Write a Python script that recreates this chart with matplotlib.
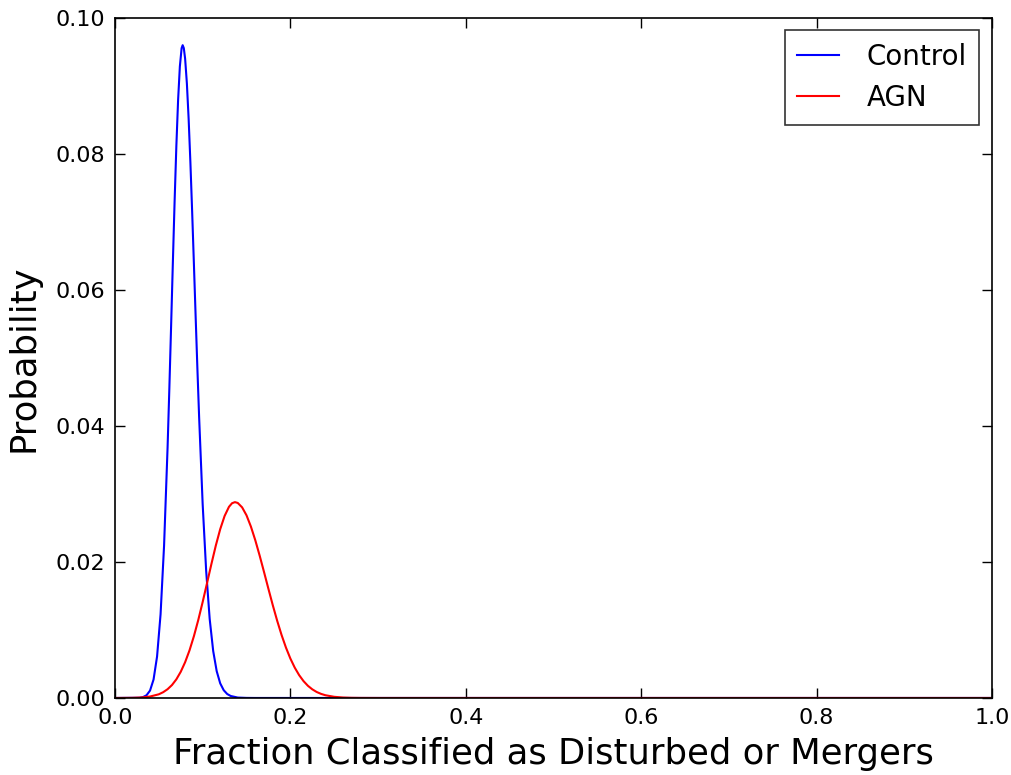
import matplotlib
matplotlib.use("Agg")
import matplotlib.pyplot as plt

# Posterior probability of the disturbed/merger fraction for each sample
control_x = [0.0, 0.028, 0.032, 0.036, 0.040, 0.044, 0.048, 0.052, 0.056, 0.060,
             0.062, 0.064, 0.066, 0.068, 0.070, 0.072, 0.074, 0.076, 0.0772, 0.0785,
             0.080, 0.082, 0.084, 0.086, 0.088, 0.090, 0.092, 0.094, 0.096,
             0.100, 0.104, 0.108, 0.112, 0.116, 0.120, 0.124, 0.128, 0.132, 0.140,
             0.150, 0.160, 1.0]
control_p = [0.0, 0.00003, 0.00013, 0.00040, 0.00109, 0.00271, 0.00609, 0.01230, 0.02242, 0.03686,
             0.04546, 0.05462, 0.06397, 0.07300, 0.08117, 0.08796, 0.09287, 0.09556, 0.09600, 0.09557,
             0.09402, 0.09038, 0.08519, 0.07879, 0.07156, 0.06388, 0.05606, 0.04842, 0.04118,
             0.02850, 0.01867, 0.01163, 0.00691, 0.00394, 0.00215, 0.00114, 0.00058, 0.00029, 0.00006,
             0.00001, 0.0, 0.0]

agn_x = [0.0, 0.02, 0.03, 0.04, 0.05, 0.055, 0.06, 0.065, 0.07, 0.075, 0.08, 0.085,
         0.09, 0.095, 0.10, 0.105, 0.11, 0.115, 0.12, 0.125, 0.13, 0.1335, 0.1368,
         0.14, 0.145, 0.15, 0.155, 0.16, 0.165, 0.17, 0.175, 0.18, 0.185, 0.19, 0.195,
         0.20, 0.205, 0.21, 0.215, 0.22, 0.225, 0.23, 0.235, 0.24,
         0.25, 0.26, 0.27, 0.28, 0.30, 1.0]
agn_p = [0.0, 0.00002, 0.00007, 0.00021, 0.00054, 0.00085, 0.00129, 0.00190, 0.00274, 0.00385,
         0.00526, 0.00700, 0.00908, 0.01147, 0.01411, 0.01690, 0.01972, 0.02242, 0.02482, 0.02676,
         0.02811, 0.02864, 0.02880, 0.02868, 0.02803, 0.02686, 0.02521, 0.02320, 0.02093, 0.01851,
         0.01604, 0.01362, 0.01134, 0.00925, 0.00740, 0.00580, 0.00446, 0.00336, 0.00248, 0.00179,
         0.00127, 0.00088, 0.00060, 0.00040, 0.00017, 0.000065, 0.000023, 0.000008, 0.000001, 0.0]

x_ticks = [0.0, 0.2, 0.4, 0.6, 0.8, 1.0]
y_ticks = [0.00, 0.02, 0.04, 0.06, 0.08, 0.10]

plt.rcParams['font.family'] = ['DejaVu Sans']

fig = plt.figure(figsize=(10.12, 7.75), dpi=100)
ax = fig.add_axes([0.1136, 0.0994, 0.8666, 0.8774])

ax.plot(control_x, control_p, color=(0, 0, 1), lw=1.5, label="Control")
ax.plot(agn_x, agn_p, color=(1, 0, 0), lw=1.5, label="AGN")

ax.set_xlim(0, 1)
ax.set_ylim(0, 0.10)
ax.set_xticks(x_ticks)
ax.set_yticks(y_ticks)
ax.set_xticklabels([f"{v:.1f}" for v in x_ticks])
ax.set_yticklabels([f"{v:.2f}" for v in y_ticks])

ax.tick_params(direction='in', top=True, right=True, length=7, width=1,
               labelsize=16, pad=7)
for s in ax.spines.values():
    s.set_linewidth(1.2)

ax.set_xlabel("Fraction Classified as Disturbed or Mergers", fontsize=25.5, labelpad=7)
ax.set_ylabel("Probability", fontsize=25.5, labelpad=11)

leg = ax.legend(loc='upper right', fontsize=20, frameon=True, fancybox=False,
                handlelength=1.5, handletextpad=1.0, borderpad=0.45,
                labelspacing=0.47, borderaxespad=0.45)
leg.get_frame().set_edgecolor('black')
leg.get_frame().set_linewidth(1.2)

fig.savefig("out.png", dpi=100)
